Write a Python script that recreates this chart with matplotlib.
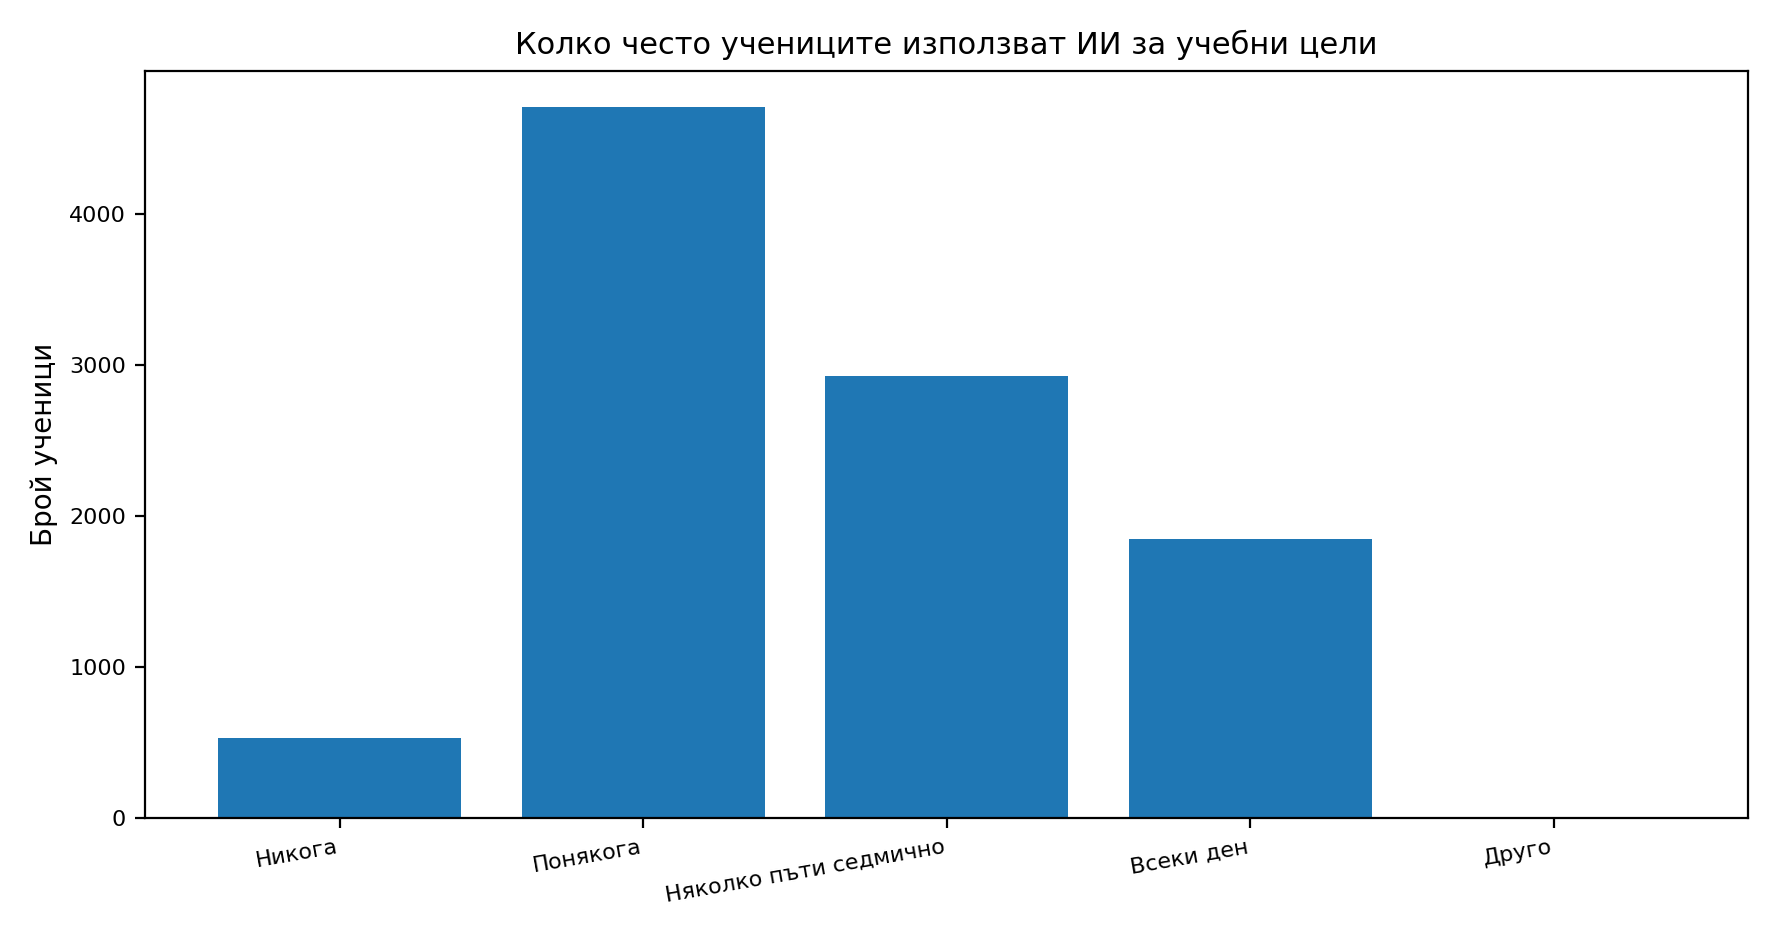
import matplotlib
matplotlib.use("Agg")
import matplotlib.pyplot as plt

categories = ["Никога", "Понякога", "Няколко пъти седмично", "Всеки ден", "Друго"]
values = [530, 4715, 2930, 1850, 3]

fig, ax = plt.subplots(figsize=(8.89, 4.68), dpi=200)
ax.bar(categories, values, color="#1f77b4")
ax.set_title("Колко често учениците използват ИИ за учебни цели", fontsize=11)
ax.set_ylabel("Брой ученици", fontsize=10)
ax.tick_params(labelsize=8)
plt.setp(ax.get_xticklabels(), rotation=10, ha="right")
fig.tight_layout()
fig.savefig("out.png", dpi=200)
